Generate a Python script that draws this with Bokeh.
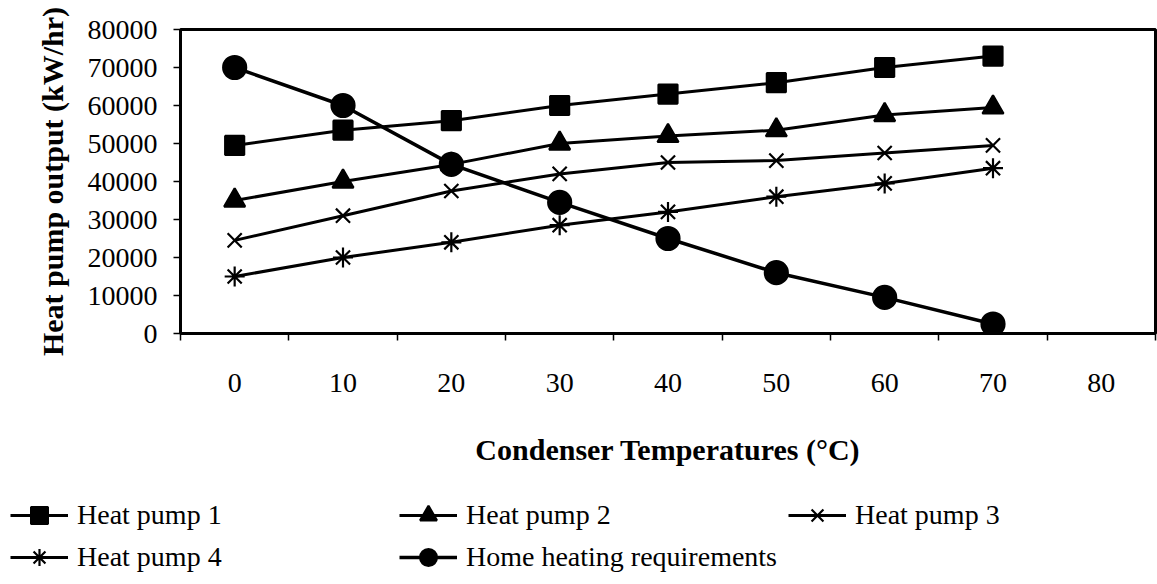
from bokeh.plotting import figure
from bokeh.layouts import column
from bokeh.models import FixedTicker, Legend, LegendItem, Range1d, NumeralTickFormatter
from bokeh.embed import file_html
from bokeh.resources import INLINE

# ---- data ----
temps = [0, 10, 20, 30, 40, 50, 60, 70]
heat_pump_1 = [49500, 53500, 56000, 60000, 63000, 66000, 70000, 73000]
heat_pump_2 = [35000, 40000, 44500, 50000, 52000, 53500, 57500, 59500]
heat_pump_3 = [24500, 31000, 37500, 42000, 45000, 45500, 47500, 49500]
heat_pump_4 = [15000, 20000, 24000, 28500, 32000, 36000, 39500, 43500]
home_heating = [70000, 60000, 44500, 34500, 25000, 16000, 9500, 2500]

x_tick_values = [0, 10, 20, 30, 40, 50, 60, 70, 80]
x_tick_marks = [-5, 5, 15, 25, 35, 45, 55, 65, 75, 85]
y_tick_values = [0, 10000, 20000, 30000, 40000, 50000, 60000, 70000, 80000]

series = [
    ("Heat pump 1", heat_pump_1, "square", 19, 3),
    ("Heat pump 2", heat_pump_2, "triangle", 21, 3),
    ("Heat pump 3", heat_pump_3, "x", 20, 3),
    ("Heat pump 4", heat_pump_4, "asterisk", 20, 3),
    ("Home heating requirements", home_heating, "circle", 23, 3.5),
]

FONT = "Liberation Serif"

p = figure(width=1157, height=490, output_backend="svg", toolbar_location=None,
           title=None, x_range=Range1d(-5, 85), y_range=Range1d(0, 80000),
           min_border_left=180, min_border_right=2, min_border_top=29,
           min_border_bottom=157)
p.frame_align = False

p.background_fill_color = "white"
p.border_fill_color = "white"
p.outline_line_color = "black"
p.outline_line_width = 3
p.xgrid.visible = False
p.ygrid.visible = False

# x axis
xa = p.xaxis[0]
xa.ticker = FixedTicker(ticks=x_tick_values, minor_ticks=x_tick_marks)
xa.axis_line_color = None
xa.major_tick_out = 0
xa.major_tick_in = 0
xa.minor_tick_out = 7
xa.minor_tick_in = 0
xa.minor_tick_line_color = "black"
xa.minor_tick_line_width = 1.5
xa.major_label_standoff = 33
xa.major_label_text_font = FONT
xa.major_label_text_font_size = "28px"
xa.major_label_text_color = "black"
xa.axis_label = "Condenser Temperatures (\u00b0C)"
xa.axis_label_text_font = FONT
xa.axis_label_text_font_style = "bold"
xa.axis_label_text_font_size = "30px"
xa.axis_label_text_color = "black"
xa.axis_label_standoff = 38

# y axis
ya = p.yaxis[0]
ya.ticker = FixedTicker(ticks=y_tick_values, minor_ticks=[])
ya.formatter = NumeralTickFormatter(format="0")
ya.axis_line_color = None
ya.major_tick_out = 7
ya.major_tick_in = 0
ya.major_tick_line_color = "black"
ya.major_tick_line_width = 1.5
ya.major_label_standoff = 16
ya.major_label_text_font = FONT
ya.major_label_text_font_size = "28px"
ya.major_label_text_color = "black"
ya.axis_label = "Heat pump output (kW/hr)"
ya.axis_label_text_font = FONT
ya.axis_label_text_font_style = "bold"
ya.axis_label_text_font_size = "30px"
ya.axis_label_text_color = "black"
ya.axis_label_standoff = 16

for name, vals, marker, size, lw in series:
    p.line(temps, vals, line_color="black", line_width=lw)
    p.scatter(temps, vals, marker=marker, size=size, fill_color="black",
              line_color="black", line_width=2.2)

# ---- legend strip below the chart ----
lg = figure(width=1157, height=94, output_backend="svg", toolbar_location=None,
            title=None, x_range=Range1d(1000, 1001), y_range=Range1d(0, 1),
            min_border=0, x_axis_location=None, y_axis_location=None)
lg.frame_align = False
lg.outline_line_color = None
lg.xgrid.visible = False
lg.ygrid.visible = False
lg.background_fill_color = "white"
lg.border_fill_color = "white"

items = []
for name, vals, marker, size, lw in series:
    ln = lg.line(temps, vals, line_color="black", line_width=lw)
    sc = lg.scatter(temps, vals, marker=marker, size=size, fill_color="black",
                    line_color="black", line_width=2.2)
    items.append(LegendItem(label=name, renderers=[ln, sc]))

legend = Legend(items=items, location=(10, 6), orientation="horizontal",
                ncols=3, glyph_width=58, glyph_height=42, label_height=42,
                label_width=322, label_standoff=9, spacing=0, padding=0,
                margin=0, border_line_color=None, background_fill_alpha=0,
                label_text_font=FONT, label_text_font_size="28px",
                label_text_color="black")
lg.add_layout(legend)

layout = column(p, lg, spacing=0)
open("out.html", "w").write(file_html(layout, INLINE))
